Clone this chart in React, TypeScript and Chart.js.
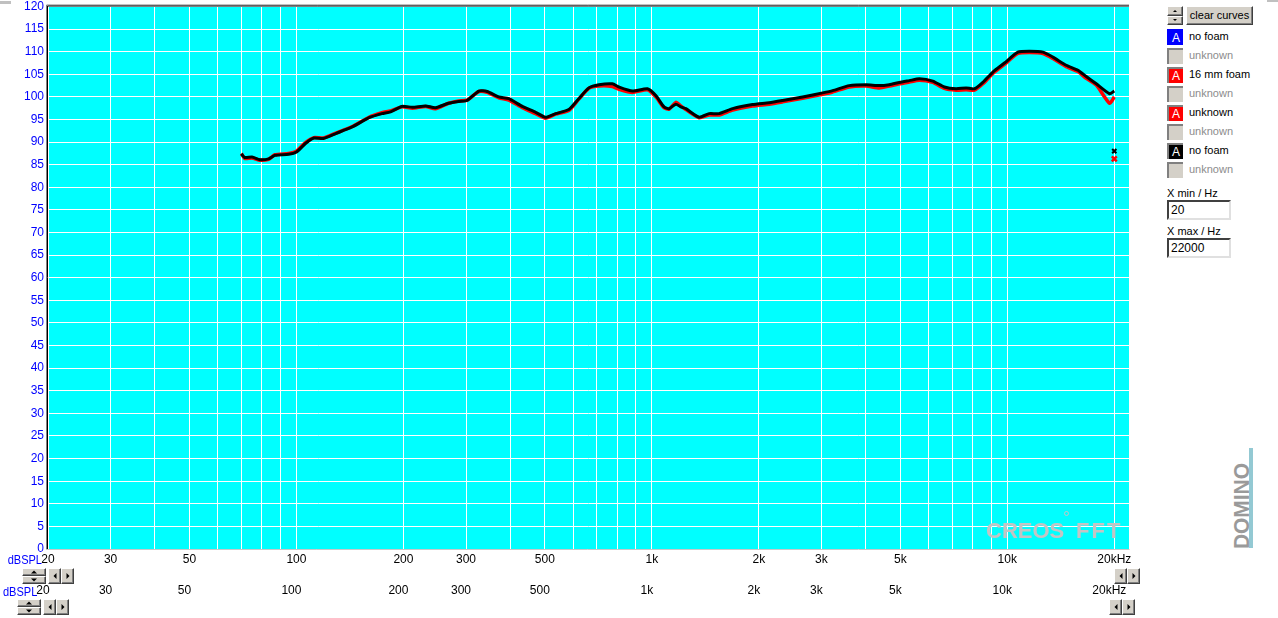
import React, { useEffect, useRef } from "react";
import { Chart, registerables } from "chart.js";

Chart.register(...registerables);

// ---- data ----
const freqHz = [
  70, 71.5, 75, 79, 83.5, 87, 95, 100, 106, 112, 119, 129, 143, 160, 174, 184, 198, 212, 231, 246,
  268, 286, 302, 326, 344, 371, 396, 432, 471, 502, 536, 584, 623, 665, 710, 774, 808, 882, 972, 1026,
  1082, 1118, 1168, 1206, 1246, 1358, 1449, 1546, 1687, 1920, 2138, 2333, 2656, 3023, 3226, 3592, 4004, 4364, 4656, 4970,
  5302, 5658, 6171, 6653, 7177, 7660, 8084, 8536, 9108, 9817, 10710, 11548, 12600, 13440, 14650, 15800, 16680, 17800, 19400, 20000,
];
const noFoamDb = [
  87.4, 86.6, 86.7, 86.1, 86.3, 87.1, 87.3, 87.8, 89.7, 90.9, 90.8, 91.9, 93.3, 95.4, 96.3, 96.7, 97.9, 97.7, 98.0, 97.6,
  98.6, 99.0, 99.2, 101.3, 101.2, 100.0, 99.6, 97.9, 96.6, 95.5, 96.3, 97.2, 99.6, 102.0, 102.7, 102.9, 102.2, 101.3, 101.8, 100.3,
  97.8, 97.4, 98.4, 97.8, 97.4, 95.5, 96.3, 96.3, 97.4, 98.3, 98.7, 99.2, 100.0, 100.9, 101.4, 102.5, 102.7, 102.5, 102.7, 103.2,
  103.6, 104.0, 103.5, 102.2, 101.8, 102.0, 101.8, 103.2, 105.5, 107.5, 109.9, 110.1, 109.9, 108.8, 107.0, 105.9, 104.5, 102.9, 100.7, 101.3,
];
const foam16Db = [
  87.5, 86.4, 86.5, 86.0, 86.2, 87.2, 87.5, 88.0, 89.9, 91.0, 90.9, 92.0, 93.4, 95.5, 96.5, 96.9, 97.8, 97.5, 97.9, 97.4,
  98.6, 99.1, 99.3, 101.2, 101.0, 99.8, 99.3, 97.6, 96.3, 95.3, 96.2, 97.0, 99.5, 101.9, 102.4, 102.3, 101.7, 101.0, 101.6, 100.0,
  97.6, 97.3, 98.8, 98.0, 97.2, 95.4, 96.0, 96.0, 97.1, 98.0, 98.4, 98.9, 99.7, 100.6, 101.1, 102.2, 102.4, 102.0, 102.4, 102.9,
  103.3, 103.7, 103.2, 101.9, 101.5, 101.6, 101.5, 102.9, 105.2, 107.2, 109.6, 109.8, 109.6, 108.5, 106.7, 105.6, 104.1, 102.6, 98.6, 100.0,
];
const markerFreq = [20000];
const markerNoFoamDb = [88.0];
const markerFoamDb = [86.3];

const gridFreqs = [
  20, 30, 40, 50, 60, 70, 80, 90, 100, 200, 300, 400, 500, 600, 700, 800, 900,
  1000, 2000, 3000, 4000, 5000, 6000, 7000, 8000, 9000, 10000, 20000,
];
const labelFreqs = [20, 30, 50, 100, 200, 300, 500, 1000, 2000, 3000, 5000, 10000, 20000];
const tickLabels = ["20", "30", "50", "100", "200", "300", "500", "1k", "2k", "3k", "5k", "10k", "20kHz"];

const legendNames = ["no foam", "unknown", "16 mm foam", "unknown", "unknown", "unknown", "no foam", "unknown"];
const legendColors: (string | null)[] = ["#0000ff", null, "#ff0000", null, "#ff0000", null, "#000000", null];

const FONT = '"Liberation Sans", Arial, sans-serif';

const labelFor = (v: number) => {
  const i = labelFreqs.indexOf(Math.round(v));
  return i >= 0 ? tickLabels[i] : "";
};

const plotDecor = {
  id: "plotDecor",
  beforeDraw(chart: any) {
    const { ctx, chartArea: a } = chart;
    ctx.save();
    ctx.fillStyle = "#00ffff";
    ctx.fillRect(a.left, a.top, a.right - a.left, a.bottom - a.top);
    ctx.restore();
  },
  afterDraw(chart: any) {
    const { ctx, chartArea: a } = chart;
    ctx.save();
    ctx.lineWidth = 1;
    ctx.strokeStyle = "#808080";
    ctx.beginPath();
    ctx.moveTo(a.left - 1.5, a.bottom);
    ctx.lineTo(a.left - 1.5, a.top - 1.5);
    ctx.lineTo(a.right, a.top - 1.5);
    ctx.stroke();
    ctx.strokeStyle = "#000000";
    ctx.beginPath();
    ctx.moveTo(a.left - 0.5, a.bottom);
    ctx.lineTo(a.left - 0.5, a.top - 0.5);
    ctx.lineTo(a.right, a.top - 0.5);
    ctx.stroke();
    ctx.strokeStyle = "#c8c8c8";
    ctx.beginPath();
    ctx.moveTo(a.left - 2, a.bottom + 0.5);
    ctx.lineTo(a.right + 0.5, a.bottom + 0.5);
    ctx.stroke();
    ctx.restore();
  },
};

const raised: React.CSSProperties = {
  position: "absolute",
  boxSizing: "border-box",
  background: "#d4d0c8",
  borderStyle: "solid",
  borderWidth: 1,
  borderColor: "#ffffff #404040 #404040 #ffffff",
  boxShadow: "inset -1px -1px 0 #808080",
};

function Tri({ dir, size = 3 }: { dir: "up" | "down" | "left" | "right"; size?: number }) {
  const s = size;
  let bw = "";
  let bc = "";
  if (dir === "up") { bw = `0 ${s}px ${s}px ${s}px`; bc = "transparent transparent #000 transparent"; }
  if (dir === "down") { bw = `${s}px ${s}px 0 ${s}px`; bc = "#000 transparent transparent transparent"; }
  if (dir === "left") { bw = `${s}px ${s}px ${s}px 0`; bc = "transparent #000 transparent transparent"; }
  if (dir === "right") { bw = `${s}px 0 ${s}px ${s}px`; bc = "transparent transparent transparent #000"; }
  return (
    <div
      style={{
        position: "absolute", left: "50%", top: "50%", width: 0, height: 0,
        borderStyle: "solid", borderWidth: bw, borderColor: bc, transform: "translate(-50%,-50%)",
      }}
    />
  );
}

function Spin({ left, top, width, height, s = 3 }: { left: number; top: number; width: number; height: number; s?: number }) {
  const h = height / 2;
  return (
    <>
      <div style={{ ...raised, left, top, width, height: h }}><Tri dir="up" size={s} /></div>
      <div style={{ ...raised, left, top: top + h, width, height: h }}><Tri dir="down" size={s} /></div>
    </>
  );
}

function LR({ left, top }: { left: number; top: number }) {
  return (
    <>
      <div style={{ ...raised, left, top, width: 13, height: 16 }}><Tri dir="left" /></div>
      <div style={{ ...raised, left: left + 13, top, width: 13, height: 16 }}><Tri dir="right" /></div>
    </>
  );
}

function Abs({ left, top, children, style }: { left: number; top: number; children?: React.ReactNode; style?: React.CSSProperties }) {
  return <div style={{ position: "absolute", left, top, whiteSpace: "nowrap", ...style }}>{children}</div>;
}

export default function App() {
  const ref = useRef<HTMLCanvasElement | null>(null);

  useEffect(() => {
    if (!ref.current) return;
    const axisFont = { family: FONT, size: 12, lineHeight: 1 };
    const chart = new Chart(ref.current, {
      type: "line",
      data: {
        datasets: [
          {
            label: "no foam",
            data: freqHz.map((f, i) => ({ x: f, y: noFoamDb[i] })),
            borderColor: "#000000",
            borderWidth: 3,
            pointRadius: 0,
            tension: 0.2,
            fill: false,
          },
          {
            label: "16 mm foam",
            data: freqHz.map((f, i) => ({ x: f, y: foam16Db[i] })),
            borderColor: "#ff0000",
            borderWidth: 3.5,
            pointRadius: 0,
            tension: 0.2,
            fill: false,
          },
          {
            label: "no foam marker",
            data: markerFreq.map((f, i) => ({ x: f, y: markerNoFoamDb[i] })),
            showLine: false,
            pointStyle: "crossRot",
            pointRadius: 3,
            pointBorderWidth: 2,
            pointBorderColor: "#000000",
            borderColor: "#000000",
          },
          {
            label: "foam marker",
            data: markerFreq.map((f, i) => ({ x: f, y: markerFoamDb[i] })),
            showLine: false,
            pointStyle: "crossRot",
            pointRadius: 3.5,
            pointBorderWidth: 2.5,
            pointBorderColor: "#ff0000",
            borderColor: "#ff0000",
          },
        ],
      },
      options: {
        animation: false,
        responsive: false,
        devicePixelRatio: 1,
        layout: { padding: { left: 0, right: 11, top: 6, bottom: 11 } },
        plugins: { legend: { display: false }, tooltip: { enabled: false } },
        events: [],
        scales: {
          x: {
            type: "logarithmic",
            position: "bottom",
            weight: 0,
            min: 20,
            max: 22000,
            afterBuildTicks: (s: any) => { s.ticks = gridFreqs.map((v) => ({ value: v })); },
            afterFit: (s: any) => { s.height = 28; s.paddingLeft = 0; s.paddingRight = 0; },
            grid: { color: "#ffffff", lineWidth: 1, drawTicks: false },
            border: { display: false },
            ticks: {
              autoSkip: false, maxRotation: 0, minRotation: 0, padding: 5, color: "#000000",
              font: axisFont, callback: (v: any) => labelFor(Number(v)),
            },
          },
          x2: {
            type: "logarithmic",
            axis: "x",
            position: "bottom",
            weight: 1,
            min: 20,
            max: 22000,
            afterBuildTicks: (s: any) => { s.ticks = gridFreqs.map((v) => ({ value: v })); },
            afterFit: (s: any) => { s.height = 30; s.paddingLeft = 0; s.paddingRight = 0; },
            grid: { display: false, drawTicks: false },
            border: { display: false },
            ticks: {
              autoSkip: false, maxRotation: 0, minRotation: 0, padding: 8, labelOffset: -5, color: "#000000",
              font: axisFont, callback: (v: any) => labelFor(Number(v)),
            },
          },
          y: {
            type: "linear",
            min: 0,
            max: 120,
            afterFit: (s: any) => { s.width = 48; s.paddingTop = 0; s.paddingBottom = 0; },
            grid: { color: "#ffffff", lineWidth: 1, drawTicks: false },
            border: { display: false },
            ticks: { stepSize: 5, autoSkip: false, padding: 4, color: "#0000ff", font: axisFont },
          },
        },
      } as any,
      plugins: [plotDecor],
    });
    return () => chart.destroy();
  }, []);

  const uiText: React.CSSProperties = { fontFamily: FONT, fontSize: 11, lineHeight: "13px" };
  const wm: React.CSSProperties = { fontFamily: FONT, fontWeight: 700, fontSize: 22, color: "#c4c4c4", lineHeight: "24px" };
  const prefix: React.CSSProperties = { color: "#0000ff", fontSize: 12, lineHeight: "13px", transform: "scaleX(0.92)", transformOrigin: "right center", textAlign: "right" };

  return (
    <div style={{ position: "fixed", left: 0, top: 0, width: 1278, height: 618, background: "#ffffff", overflow: "hidden", fontFamily: FONT }}>
      <canvas ref={ref} width={1140} height={618} style={{ position: "absolute", left: 0, top: 0, width: 1140, height: 618, display: "block" }} />

      {/* watermark */}
      <Abs left={986} top={519} style={wm}>CREOS</Abs>
      <Abs left={1064} top={511} style={{ width: 5, height: 5, borderRadius: "50%", border: "1px solid #c4c4c4", boxSizing: "border-box" }} />
      <Abs left={1076} top={519} style={{ ...wm, letterSpacing: 2 }}>FFT</Abs>

      {/* tiny decorations */}
      <Abs left={0} top={1} style={{ width: 11, height: 3, background: "#c0c0c0" }} />
      <Abs left={1267} top={0} style={{ width: 11, height: 2, background: "#c0c0c0" }} />

      {/* axis prefixes and scroll widgets */}
      <Abs left={0} top={554} style={{ ...prefix, width: 42 }}>dBSPL</Abs>
      <Abs left={0} top={586} style={{ ...prefix, width: 37 }}>dBSPL</Abs>
      <Spin left={22} top={568} width={24} height={16} />
      <LR left={48} top={568} />
      <Spin left={17} top={599} width={24} height={16} />
      <LR left={43} top={599} />
      <LR left={1114} top={568} />
      <LR left={1109} top={599} />

      {/* right panel */}
      <Spin left={1167} top={6} width={16} height={19} s={2} />
      <div style={{ ...raised, left: 1186, top: 6, width: 67, height: 19, ...uiText, lineHeight: "17px", textAlign: "center", color: "#000", whiteSpace: "nowrap" }}>clear curves</div>
      {legendNames.map((name, i) => {
        const top = 29 + i * 19;
        const c = legendColors[i];
        return (
          <React.Fragment key={i}>
            <div
              style={{
                position: "absolute", left: 1167, top, width: 16, height: 16, boxSizing: "border-box",
                background: c ?? "#d4d0c8", borderStyle: "solid", borderWidth: "2px 0 0 2px",
                borderColor: c === "#0000ff" ? "#0000ff" : "#808080",
                color: "#ffffff", fontSize: 12, lineHeight: "14px", textAlign: "center", fontFamily: FONT,
              }}
            >
              {c ? "A" : ""}
            </div>
            <Abs left={1189} top={top + 1} style={{ ...uiText, color: c ? "#000000" : "#8c8c8c" }}>{name}</Abs>
          </React.Fragment>
        );
      })}
      <Abs left={1167} top={187} style={{ ...uiText, color: "#000" }}>X min / Hz</Abs>
      <div style={{ position: "absolute", left: 1167, top: 200, width: 64, height: 20, boxSizing: "border-box", background: "#fff", borderStyle: "solid", borderWidth: 2, borderColor: "#404040 #e0e0e0 #e0e0e0 #404040", ...uiText, fontSize: 12, lineHeight: "16px", paddingLeft: 2 }}>20</div>
      <Abs left={1167} top={225} style={{ ...uiText, color: "#000" }}>X max / Hz</Abs>
      <div style={{ position: "absolute", left: 1167, top: 238, width: 64, height: 20, boxSizing: "border-box", background: "#fff", borderStyle: "solid", borderWidth: 2, borderColor: "#404040 #e0e0e0 #e0e0e0 #404040", ...uiText, fontSize: 12, lineHeight: "16px", paddingLeft: 2 }}>22000</div>

      {/* vertical logo */}
      <Abs left={1249} top={448} style={{ width: 4, height: 100, background: "#93c9d3" }} />
      <Abs left={1233} top={549} style={{ transform: "rotate(-90deg) scaleX(0.95)", transformOrigin: "left top", fontFamily: FONT, fontWeight: 700, fontSize: 22, lineHeight: "17px", color: "#9a9a9a", letterSpacing: 0 }}>DOMINO</Abs>
    </div>
  );
}
